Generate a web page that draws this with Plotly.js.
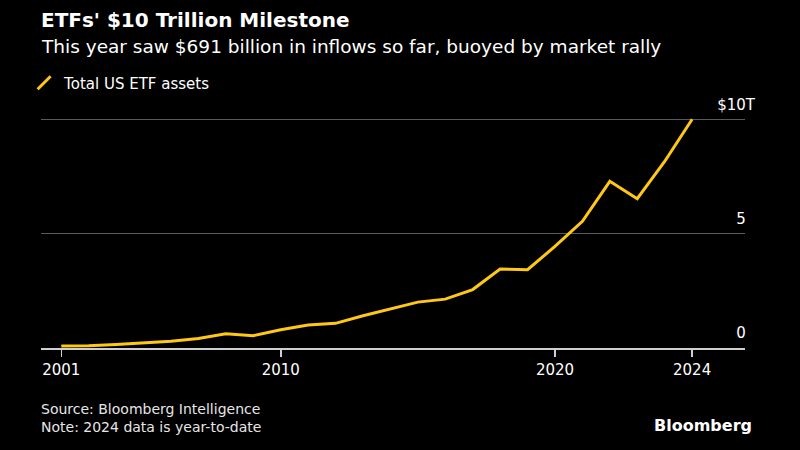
<!DOCTYPE html>
<html>
<head>
<meta charset="utf-8">
<script src="https://cdn.plot.ly/plotly-3.0.1.min.js"></script>
<style>
html,body{margin:0;padding:0;background:#000;}
#chart{width:800px;height:450px;}
</style>
</head>
<body>
<div id="chart"></div>
<script>
// Year-end total US ETF assets, $ trillions (2024 is year-to-date)
const years = [2001,2002,2003,2004,2005,2006,2007,2008,2009,2010,2011,2012,2013,2014,2015,2016,2017,2018,2019,2020,2021,2022,2023,2024];
const assets = [0.09,0.10,0.15,0.23,0.30,0.42,0.62,0.54,0.80,1.01,1.08,1.41,1.71,2.01,2.14,2.56,3.46,3.43,4.45,5.55,7.30,6.54,8.17,10.02];
const seriesName = 'Total US ETF assets';
const xTickLabels = ['2001','2010','2020','2024'];
const xTickDates = ['2001-12-31','2010-01-01','2020-01-01','2024-12-31'];
const yTickVals = [0,5,10];
const yTickLabels = ['0','5','$10T'];

const yellow = '#FFC814';
const xDates = years.map(y => y + '-12-31');
// numbers align, the unit suffix hangs past the plot edge (invisible pad on plain numbers)
const yTickText = yTickLabels.map(t => /T$/.test(t) ? t : t + "<span style='color:rgba(0,0,0,0)'>T</span>");

const traces = [
  {x: xDates, y: assets, type: 'scatter', mode: 'lines', name: seriesName,
   line: {color: yellow, width: 3}, showlegend: false, hoverinfo: 'x+y'},
  {x: [null], y: [null], type: 'scatter', mode: 'markers', name: seriesName,
   marker: {symbol: 'line-ne', size: 13, color: yellow, line: {color: yellow, width: 3}}, showlegend: true}
];

const font = 'DejaVu Sans, Liberation Sans, Arial, sans-serif';
const PT = 95;           // top margin (px)
const PH = 450 - PT - 102; // plot height (px)
const py = px => (348 - px) / PH; // paper y from pixel row

const layout = {
  width: 800, height: 450,
  paper_bgcolor: '#000', plot_bgcolor: '#000',
  margin: {l: 41, r: 55, t: PT, b: 102},
  font: {family: font, color: '#ffffff', size: 14},
  showlegend: true,
  legend: {x: -0.024, xref: 'paper', y: py(83), yanchor: 'middle', xanchor: 'left', orientation: 'h',
           font: {family: font, size: 15, color: '#ffffff'}, bgcolor: 'rgba(0,0,0,0)',
           itemwidth: 30, tracegroupgap: 0},
  xaxis: {
    type: 'date', range: ['2001-04-05', '2026-12-05'],
    tickmode: 'array', tickvals: xTickDates, ticktext: xTickLabels,
    showgrid: false, zeroline: false,
    showline: true, linecolor: '#cfcfcf', linewidth: 1.5,
    ticks: 'outside', ticklen: 7, tickcolor: '#cfcfcf', tickwidth: 1.5,
    tickfont: {family: font, size: 15, color: '#ffffff'}
  },
  yaxis: {
    range: [0, 10 * PH / 228.3], side: 'right',
    tickmode: 'array', tickvals: yTickVals, ticktext: yTickText,
    ticklabelposition: 'inside', ticklabelshift: -15, ticklabelstandoff: -13,
    showgrid: true, gridcolor: '#5a5a5a', gridwidth: 1.2,
    zeroline: false, showline: false, ticks: '',
    tickfont: {family: font, size: 15, color: '#ffffff'}
  },
  annotations: [
    {text: "<b>ETFs' $10 Trillion Milestone</b>", xref: 'paper', yref: 'paper',
     x: 0, y: py(20), xanchor: 'left', yanchor: 'middle', showarrow: false, xshift: -2,
     font: {family: font, size: 20, color: '#ffffff'}},
    {text: 'This year saw $691 billion in inflows so far, buoyed by market rally', xref: 'paper', yref: 'paper',
     x: 0, y: py(47), xanchor: 'left', yanchor: 'middle', showarrow: false, xshift: -2,
     font: {family: font, size: 18.5, color: '#ffffff'}},
    {text: 'Source: Bloomberg Intelligence<br>Note: 2024 data is year-to-date', xref: 'paper', yref: 'paper',
     x: 0, y: py(399), xanchor: 'left', yanchor: 'top', align: 'left', showarrow: false, xshift: -2,
     font: {family: font, size: 14, color: '#e6e6e6'}},
    {text: '<b>Bloomberg</b>', xref: 'paper', yref: 'paper', x: 1.013, y: py(425), xanchor: 'right', yanchor: 'middle',
     showarrow: false, font: {family: font, size: 16, color: '#ffffff'}}
  ]
};

Plotly.newPlot('chart', traces, layout, {displayModeBar: false, staticPlot: true});
</script>
</body>
</html>
